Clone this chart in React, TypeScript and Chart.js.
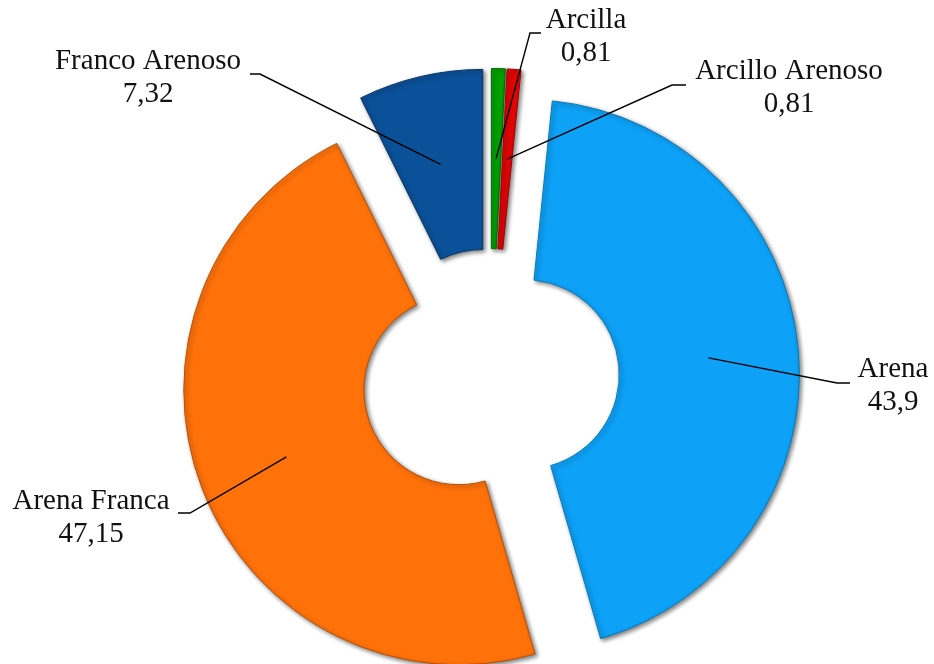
import React, { useEffect, useRef } from "react";
import { Chart, registerables } from "chart.js";

Chart.register(...registerables);

// ---- data ----
const categories = ["Arcilla", "Arcillo Arenoso", "Arena", "Arena Franca", "Franco Arenoso"];
const values = [0.81, 0.81, 43.9, 47.15, 7.32];
const colors = ["#03A003", "#E20505", "#0DA2F7", "#FF720A", "#0B5199"];
const edgeColors = ["#026B02", "#9A0303", "#0A78B8", "#B84F05", "#073566"];

// ---- label layout (text centre x, first baseline y, leader elbow, leader end x) ----
const labelX = [586, 789, 893, 91, 148];
const labelY = [28, 79, 377, 509, 69];
const elbowX = [530, 672, 837, 190, 260];
const elbowY = [33, 85, 383, 513, 74];
const endX = [541, 686, 850, 178, 250];

const EXPLODE = 34;
const LINE_H = 33;

const fmt = (v: number) => String(v).replace(".", ",");

const explodePlugin = {
  id: "explode",
  afterDatasetUpdate(chart: any, args: any) {
    args.meta.data.forEach((arc: any) => {
      const mid = (arc.startAngle + arc.endAngle) / 2;
      arc.x += Math.cos(mid) * EXPLODE;
      arc.y += Math.sin(mid) * EXPLODE;
    });
  },
};

const shadowPlugin = {
  id: "shadow",
  beforeDatasetsDraw(chart: any) {
    const ctx = chart.ctx;
    ctx.save();
    ctx.shadowColor = "rgba(0,0,0,0.5)";
    ctx.shadowBlur = 4;
    ctx.shadowOffsetX = 2;
    ctx.shadowOffsetY = 2;
  },
  afterDatasetsDraw(chart: any) {
    chart.ctx.restore();
  },
};

const labelPlugin = {
  id: "leaderLabels",
  afterDraw(chart: any) {
    const ctx = chart.ctx;
    const arcs = chart.getDatasetMeta(0).data;
    ctx.save();
    ctx.strokeStyle = "#000";
    ctx.lineWidth = 1.4;
    ctx.fillStyle = "#111";
    ctx.font = '29px "Liberation Serif", "Times New Roman", serif';
    ctx.textAlign = "center";
    ctx.textBaseline = "alphabetic";
    arcs.forEach((arc: any, i: number) => {
      const p = arc.tooltipPosition(false);
      ctx.beginPath();
      ctx.moveTo(p.x, p.y);
      ctx.lineTo(elbowX[i], elbowY[i]);
      ctx.lineTo(endX[i], elbowY[i]);
      ctx.stroke();
      ctx.fillText(categories[i], labelX[i], labelY[i]);
      ctx.fillText(fmt(values[i]), labelX[i], labelY[i] + LINE_H);
    });
    ctx.restore();
  },
};

export default function App() {
  const ref = useRef<HTMLCanvasElement | null>(null);

  useEffect(() => {
    if (!ref.current) return;
    const chart = new Chart(ref.current, {
      type: "doughnut",
      data: {
        labels: categories,
        datasets: [
          {
            data: values,
            backgroundColor: colors,
            borderColor: edgeColors,
            borderWidth: 1,
          },
        ],
      },
      options: {
        animation: false,
        responsive: false,
        devicePixelRatio: 1,
        events: [],
        radius: 275,
        cutout: "34.5%",
        rotation: 0,
        layout: { padding: { left: 47, top: 91, right: 0, bottom: 0 } },
        plugins: {
          legend: { display: false },
          tooltip: { enabled: false },
        },
      } as any,
      plugins: [explodePlugin, shadowPlugin, labelPlugin],
    });
    return () => chart.destroy();
  }, []);

  return (
    <canvas
      ref={ref}
      width={934}
      height={664}
      style={{ position: "fixed", left: 0, top: 0, width: 934, height: 664 }}
    />
  );
}
